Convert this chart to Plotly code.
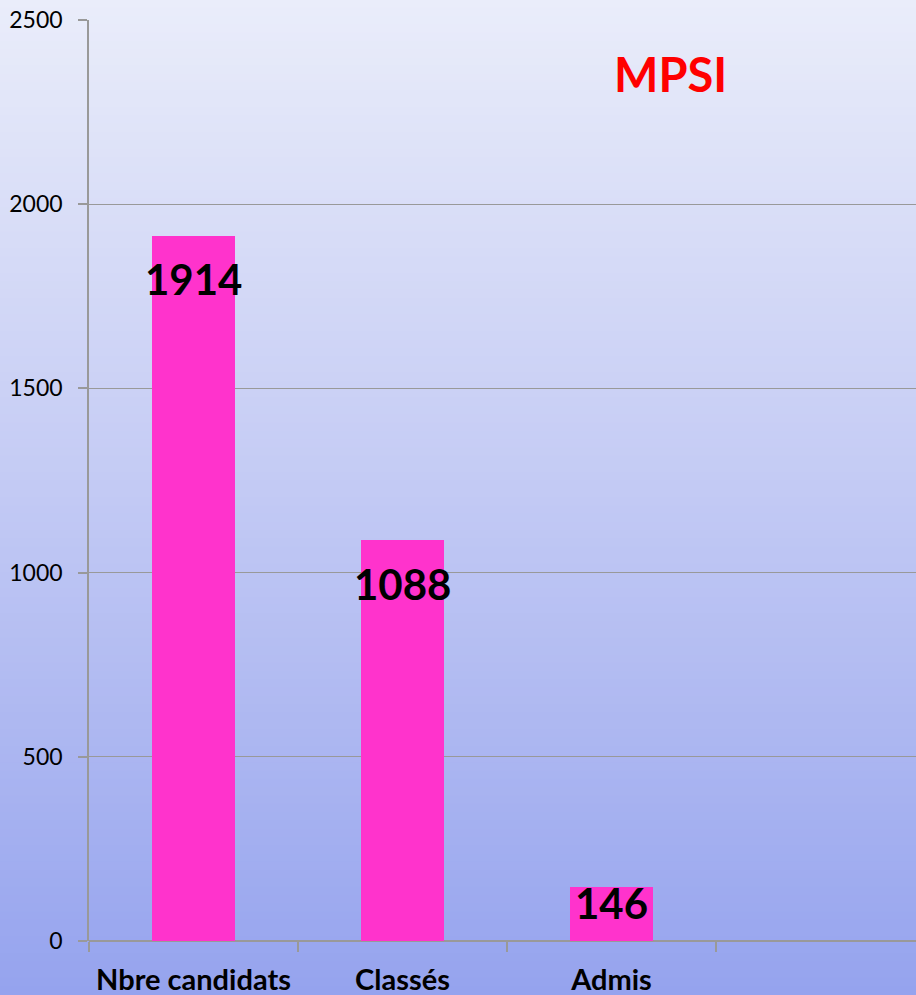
import plotly.graph_objects as go

# ---- data ----
categories = ["Nbre candidats", "Classés", "Admis"]
values = [1914, 1088, 146]
label_shifts = [-43, -44, -16]   # vertical offset (px) of the value labels
title_text = "MPSI"
y_ticks = [0, 500, 1000, 1500, 2000, 2500]

W, H = 916, 995
ML, MR, MT, MB = 89, 0, 20, 54
PW, PH = W - ML - MR, H - MT - MB

FONT = "Lato, 'Open Sans', sans-serif"
BAR = "#ff33cc"
GRID = "#999999"

x_idx = list(range(len(categories)))
x_range = [-0.5, -0.5 + PW / 209.0]

fig = go.Figure()
fig.add_trace(go.Bar(
    x=x_idx, y=values, width=0.40,
    marker=dict(color=BAR, line=dict(width=0)),
    hoverinfo="x+y", showlegend=False,
))
# helper trace binding the boundary-tick axis
fig.add_trace(go.Scatter(
    x=[x_range[0]], y=[0], xaxis="x2", mode="markers",
    marker=dict(opacity=0), hoverinfo="skip", showlegend=False,
))

# value labels
for xi, v, s in zip(x_idx, values, label_shifts):
    fig.add_annotation(
        x=xi, y=v, xref="x", yref="y", text=f"<b>{v}</b>",
        showarrow=False, yanchor="middle", xanchor="center", yshift=s,
        font=dict(family=FONT, size=42, color="black"),
    )

# title
fig.add_annotation(
    x=(670 - ML) / PW, y=(MT + PH - 74) / PH, xref="paper", yref="paper",
    text=f"<b>{title_text}</b>", showarrow=False,
    xanchor="center", yanchor="middle",
    font=dict(family=FONT, size=47, color="#ff0000"),
)

# gradient background made of horizontal strips
def lerp(c1, c2, t):
    return tuple(round(a + (b - a) * t) for a, b in zip(c1, c2))

stops = [(0, (234, 237, 250)), (490, (195, 202, 244)), (995, (149, 163, 238))]
def color_at(py):
    for (p0, c0), (p1, c1) in zip(stops[:-1], stops[1:]):
        if py <= p1:
            return lerp(c0, c1, (py - p0) / (p1 - p0))
    return stops[-1][1]

shapes = []
N = 120
step = H / N
for i in range(N):
    top_px = i * step
    bot_px = (i + 1) * step
    c = color_at((top_px + bot_px) / 2)
    shapes.append(dict(
        type="rect", xref="paper", yref="paper", layer="below",
        x0=-ML / PW - 0.01, x1=1.01,
        y0=(MT + PH - bot_px - 0.6) / PH, y1=(MT + PH - top_px + 0.6) / PH,
        fillcolor="rgb(%d,%d,%d)" % c, line=dict(width=0),
    ))

fig.update_layout(
    width=W, height=H,
    margin=dict(l=ML, r=MR, t=MT, b=MB, pad=0),
    paper_bgcolor="rgb(195,202,244)",
    plot_bgcolor="rgba(0,0,0,0)",
    shapes=shapes,
    bargap=0,
    xaxis=dict(
        range=x_range, tickmode="array", tickvals=x_idx, ticktext=categories,
        showgrid=False, zeroline=False, showline=False,
        ticks="", ticklabelstandoff=19,
        tickfont=dict(family=FONT, size=29, color="black", weight="bold"),
        fixedrange=True,
    ),
    xaxis2=dict(
        range=x_range, overlaying="x", anchor="y", side="bottom",
        tickmode="array", tickvals=[-0.5, 0.5, 1.5, 2.5],
        showticklabels=False, ticks="outside", ticklen=10, tickwidth=1.5,
        tickcolor=GRID, showgrid=False, zeroline=False, showline=False,
        fixedrange=True,
    ),
    yaxis=dict(
        range=[0, 2500], tickmode="array", tickvals=y_ticks,
        showgrid=True, gridcolor=GRID, gridwidth=1.3,
        zeroline=True, zerolinecolor=GRID, zerolinewidth=1.5,
        showline=True, linecolor=GRID, linewidth=1.6,
        ticks="outside", ticklen=9, tickwidth=1.5, tickcolor=GRID,
        ticklabelstandoff=11,
        tickfont=dict(family=FONT, size=23, color="black"),
        fixedrange=True,
    ),
    font=dict(family=FONT),
)

fig.write_html("out.html", config={"displayModeBar": False})

# remove the browser's default page margin so the figure fills the window
with open("out.html", "r", encoding="utf-8") as f:
    html = f.read()
html = html.replace("<body>", '<body style="margin:0;padding:0;overflow:hidden">', 1)
html = html.replace("<head>", '<head><style>html,body{margin:0;padding:0;overflow:hidden}</style>', 1)
with open("out.html", "w", encoding="utf-8") as f:
    f.write(html)
